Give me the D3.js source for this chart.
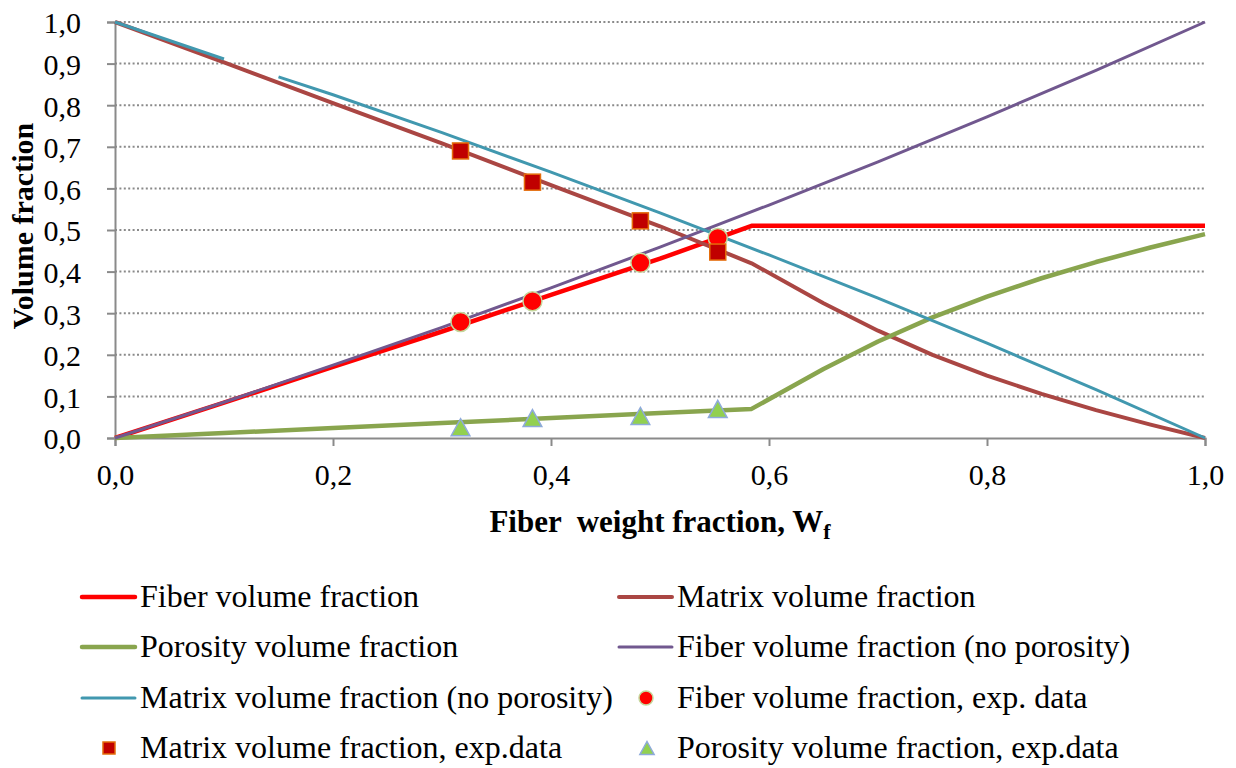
<!DOCTYPE html>
<html>
<head>
<meta charset="utf-8">
<script src="https://cdn.jsdelivr.net/npm/d3@7"></script>
<style>
  body { margin: 0; background: #fff; }
  svg { display: block; font-family: "Liberation Serif", "Times New Roman", serif; }
</style>
</head>
<body>
<div id="viz"></div>
<script>
// model curves
const wf = [0, 0.1, 0.2, 0.3, 0.4, 0.5, 0.584, 0.65, 0.7, 0.75, 0.8, 0.85, 0.9, 0.95, 1.0];
const fiberVf = [0, 0.085, 0.171, 0.256, 0.344, 0.431, 0.51, 0.51, 0.51, 0.51, 0.51, 0.51, 0.51, 0.51, 0.51];
const matrixVf = [1, 0.903, 0.805, 0.708, 0.608, 0.509, 0.42, 0.324, 0.258, 0.2, 0.15, 0.106, 0.067, 0.032, 0];
const porosityVf = [0, 0.012, 0.024, 0.036, 0.048, 0.06, 0.07, 0.166, 0.232, 0.29, 0.34, 0.384, 0.423, 0.458, 0.49];

// no-porosity curves
const wfNp = [0, 0.1, 0.2, 0.3, 0.4, 0.5, 0.6, 0.7, 0.8, 0.9, 1.0];
const fiberNp = [0, 0.086, 0.175, 0.266, 0.361, 0.459, 0.56, 0.664, 0.772, 0.884, 1.0];
// the matrix (no porosity) line has a break between 0.1 and 0.15
const wfMatrixNp = [0, 0.1, 0.125, 0.15, 0.2, 0.3, 0.4, 0.5, 0.6, 0.7, 0.8, 0.9, 1.0];
const matrixNp = [1.0, 0.911, null, 0.868, 0.825, 0.734, 0.639, 0.541, 0.44, 0.336, 0.228, 0.116, 0];

// experimental data
const expWf = [0.317, 0.383, 0.482, 0.553];
const expFiber = [0.279, 0.329, 0.421, 0.481];
const expMatrix = [0.69, 0.615, 0.522, 0.447];
const expPorosity = [0.026, 0.048, 0.053, 0.07];

const yTicks = d3.range(0, 11).map(i => i / 10);
const xTicks = [0, 0.2, 0.4, 0.6, 0.8, 1.0];
const fmt = v => d3.format(".1f")(v).replace(".", ",");

const width = 1236, height = 768;
const svg = d3.select("#viz").append("svg")
    .attr("width", width)
    .attr("height", height);

const x = d3.scaleLinear().domain([0, 1]).range([115, 1205]);
const y = d3.scaleLinear().domain([0, 1]).range([438, 22]);

// gridlines
svg.append("g")
    .selectAll("line")
    .data(yTicks.filter(d => d > 0))
    .enter()
    .append("line")
    .attr("x1", x(0))
    .attr("x2", x(1))
    .attr("y1", d => y(d))
    .attr("y2", d => y(d))
    .attr("stroke", "#8a8a8a")
    .attr("stroke-width", 2)
    .attr("stroke-dasharray", "2,2.4");

// axes
const yAxis = d3.axisLeft(y).tickValues(yTicks).tickFormat(fmt).tickSize(8).tickPadding(26);
const xAxis = d3.axisBottom(x).tickValues(xTicks).tickFormat(fmt).tickSize(8).tickPadding(18);

const gy = svg.append("g")
    .attr("transform", `translate(${x(0)},0)`)
    .call(yAxis);
const gx = svg.append("g")
    .attr("transform", `translate(0,${y(0)})`)
    .call(xAxis);

[gx, gy].forEach(g => {
    g.select(".domain").attr("stroke", "#8a8a8a").attr("stroke-width", 2);
    g.selectAll(".tick line").attr("stroke", "#8a8a8a").attr("stroke-width", 2);
    g.selectAll(".tick text")
        .attr("fill", "#000")
        .style("font-family", '"Liberation Serif", "Times New Roman", serif')
        .style("font-size", "30px");
});
gy.selectAll(".tick text").attr("dy", "0.36em");

// axis titles
svg.append("text")
    .attr("transform", "translate(33,226) rotate(-90)")
    .attr("text-anchor", "middle")
    .style("font-size", "30px")
    .style("font-weight", "bold")
    .text("Volume fraction");

const xt = svg.append("text")
    .attr("x", 660)
    .attr("y", 532)
    .attr("text-anchor", "middle")
    .style("font-size", "31px")
    .style("font-weight", "bold")
    .attr("xml:space", "preserve");
xt.append("tspan").text("Fiber  weight fraction, W");
xt.append("tspan").attr("dy", 7).style("font-size", "22px").text("f");

// lines
const line = d3.line()
    .defined(d => d[1] !== null)
    .x(d => x(d[0]))
    .y(d => y(d[1]));

const series = [
    { name: "Fiber volume fraction", xs: wf, ys: fiberVf, color: "#ff0000", w: 4.5 },
    { name: "Matrix volume fraction", xs: wf, ys: matrixVf, color: "#aa4643", w: 4 },
    { name: "Porosity volume fraction", xs: wf, ys: porosityVf, color: "#89a54e", w: 4.5 },
    { name: "Fiber volume fraction (no porosity)", xs: wfNp, ys: fiberNp, color: "#71588f", w: 3 },
    { name: "Matrix volume fraction (no porosity)", xs: wfMatrixNp, ys: matrixNp, color: "#4198af", w: 3 }
];

series.forEach(s => {
    svg.append("path")
        .datum(s.xs.map((v, i) => [v, s.ys[i]]))
        .attr("fill", "none")
        .attr("stroke", s.color)
        .attr("stroke-width", s.w)
        .attr("stroke-linejoin", "round")
        .attr("d", line);
});

// markers
const tri = r => `M0,${-r}L${r * 1.1},${r}L${-r * 1.1},${r}Z`;

svg.append("g").selectAll("circle")
    .data(expWf.map((v, i) => [v, expFiber[i]]))
    .enter()
    .append("circle")
    .attr("cx", d => x(d[0]))
    .attr("cy", d => y(d[1]))
    .attr("r", 9.5)
    .attr("fill", "#ff0000")
    .attr("stroke", "#c4d79b")
    .attr("stroke-width", 1.5);

svg.append("g").selectAll("rect")
    .data(expWf.map((v, i) => [v, expMatrix[i]]))
    .enter()
    .append("rect")
    .attr("x", d => x(d[0]) - 8)
    .attr("y", d => y(d[1]) - 8)
    .attr("width", 16)
    .attr("height", 16)
    .attr("fill", "#c00000")
    .attr("stroke", "#e46c0a")
    .attr("stroke-width", 1.5);

svg.append("g").selectAll("path")
    .data(expWf.map((v, i) => [v, expPorosity[i]]))
    .enter()
    .append("path")
    .attr("transform", d => `translate(${x(d[0])},${y(d[1])})`)
    .attr("d", tri(8.5))
    .attr("fill", "#92d050")
    .attr("stroke", "#8eaadb")
    .attr("stroke-width", 1.5);

// legend
const legendItems = [
    { label: "Fiber volume fraction", type: "line", color: "#ff0000", w: 4.5 },
    { label: "Matrix volume fraction", type: "line", color: "#aa4643", w: 4 },
    { label: "Porosity volume fraction", type: "line", color: "#89a54e", w: 4.5 },
    { label: "Fiber volume fraction (no porosity)", type: "line", color: "#71588f", w: 3 },
    { label: "Matrix volume fraction (no porosity)", type: "line", color: "#4198af", w: 3 },
    { label: "Fiber volume fraction, exp. data", type: "circle" },
    { label: "Matrix volume fraction, exp.data", type: "square" },
    { label: "Porosity volume fraction, exp.data", type: "triangle" }
];

const colX = [82, 619];
const rowY = [597, 647, 698, 748];

legendItems.forEach((item, i) => {
    const cx = colX[i % 2], cy = rowY[Math.floor(i / 2)];
    const g = svg.append("g").attr("transform", `translate(${cx},${cy})`);
    if (item.type === "line") {
        g.append("line")
            .attr("x1", 0).attr("x2", 53)
            .attr("stroke", item.color)
            .attr("stroke-width", item.w)
            .attr("stroke-linecap", "round");
    } else if (item.type === "circle") {
        g.append("circle").attr("cx", 27).attr("r", 7)
            .attr("fill", "#ff0000").attr("stroke", "#c4d79b").attr("stroke-width", 1.5);
    } else if (item.type === "square") {
        g.append("rect").attr("x", 21).attr("y", -6).attr("width", 12).attr("height", 12)
            .attr("fill", "#c00000").attr("stroke", "#e46c0a").attr("stroke-width", 1.5);
    } else {
        g.append("path").attr("transform", "translate(28,0)").attr("d", tri(6.5))
            .attr("fill", "#92d050").attr("stroke", "#8eaadb").attr("stroke-width", 1.5);
    }
    g.append("text")
        .attr("x", 58)
        .attr("y", 10)
        .style("font-size", "32px")
        .text(item.label);
});
</script>
</body>
</html>
